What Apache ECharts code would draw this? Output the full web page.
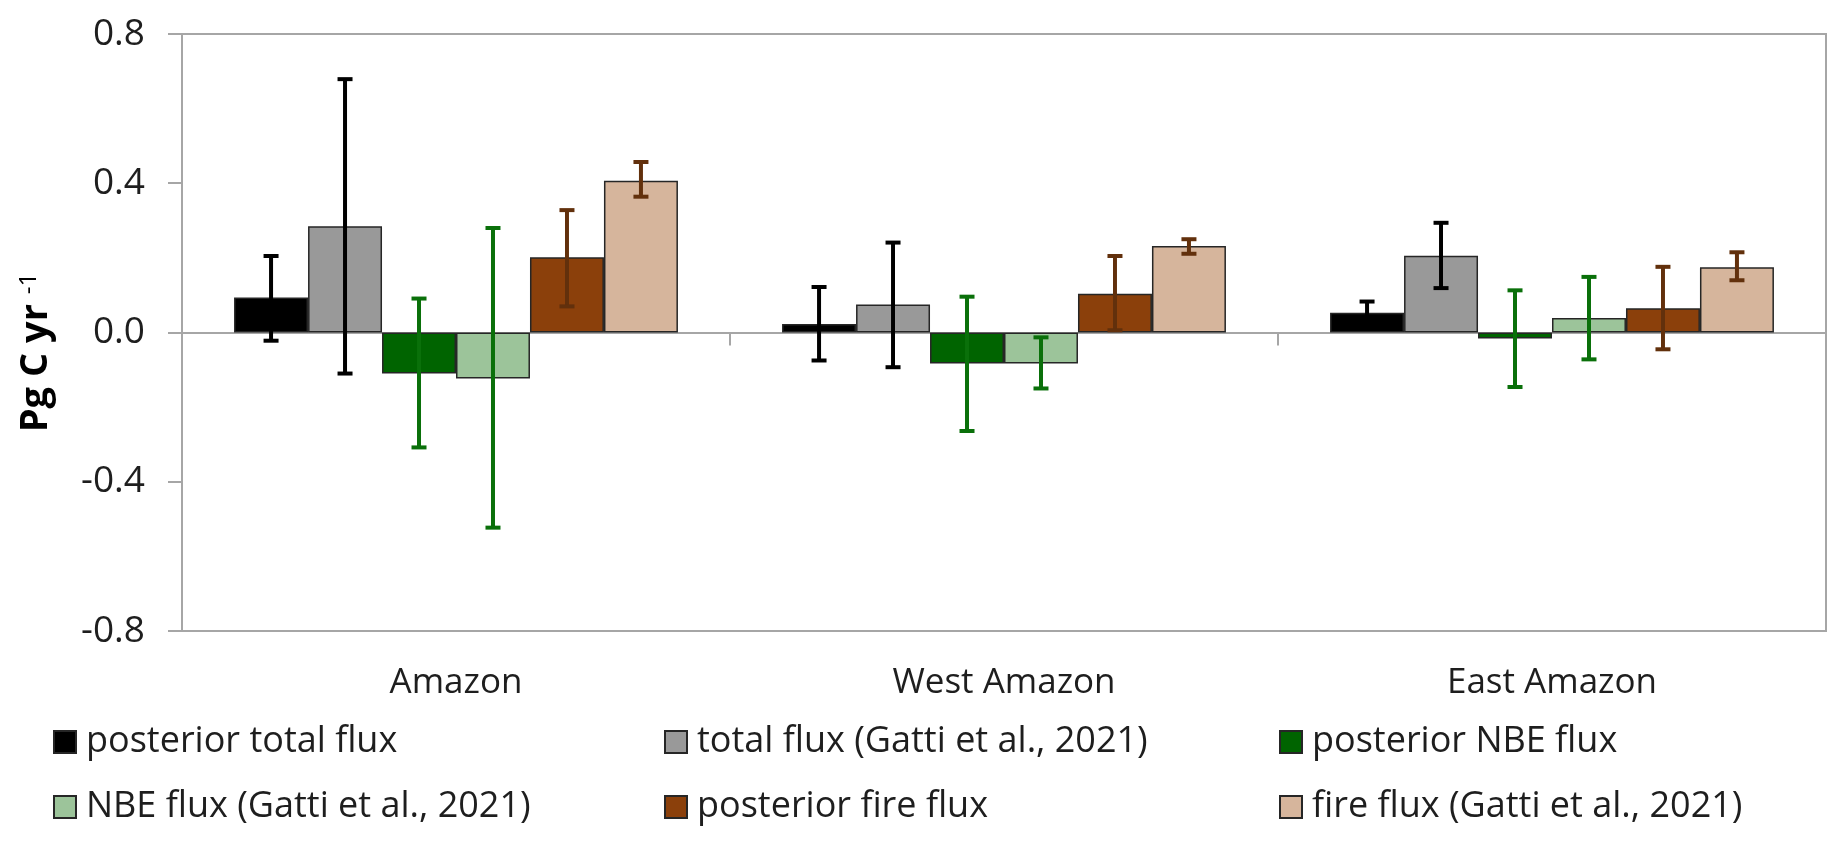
<!DOCTYPE html>
<html>
<head>
<meta charset="utf-8">
<script src="https://cdn.jsdelivr.net/npm/echarts/dist/echarts.min.js"></script>
<style>
html,body{margin:0;padding:0;background:#fff;}
#chart{width:1847px;height:841px;}
</style>
</head>
<body>
<div id="chart"></div>
<script>
// ---- data ----
const categories = ['Amazon', 'West Amazon', 'East Amazon'];
const yTicks = [-0.8, -0.4, 0.0, 0.4, 0.8];

const postTotal      = [0.094, 0.023, 0.053];
const postTotalHi    = [0.205, 0.122, 0.083];
const postTotalLo    = [-0.022, -0.075, 0.023];

const gattiTotal     = [0.285, 0.075, 0.206];
const gattiTotalHi   = [0.679, 0.241, 0.294];
const gattiTotalLo   = [-0.110, -0.093, 0.119];

const postNBE        = [-0.110, -0.083, -0.016];
const postNBEHi      = [0.091, 0.096, 0.113];
const postNBELo      = [-0.308, -0.264, -0.146];

const gattiNBE       = [-0.123, -0.083, 0.039];
const gattiNBEHi     = [0.280, -0.013, 0.149];
const gattiNBELo     = [-0.523, -0.150, -0.072];

const postFire       = [0.202, 0.104, 0.065];
const postFireHi     = [0.328, 0.205, 0.176];
const postFireLo     = [0.070, 0.006, -0.045];

const gattiFire      = [0.407, 0.232, 0.175];
const gattiFireHi    = [0.457, 0.250, 0.215];
const gattiFireLo    = [0.364, 0.211, 0.140];

const seriesNames = [
  'posterior total flux',
  'total flux (Gatti et al., 2021)',
  'posterior NBE flux',
  'NBE flux (Gatti et al., 2021)',
  'posterior fire flux',
  'fire flux (Gatti et al., 2021)'
];
const values = [postTotal, gattiTotal, postNBE, gattiNBE, postFire, gattiFire];
const highs  = [postTotalHi, gattiTotalHi, postNBEHi, gattiNBEHi, postFireHi, gattiFireHi];
const lows   = [postTotalLo, gattiTotalLo, postNBELo, gattiNBELo, postFireLo, gattiFireLo];

// ---- styles ----
const barColors = ['#000000', '#999999', '#006400', '#9cc49a', '#8b400b', '#d6b59c'];
const errColors = ['#000000', '#000000', '#0a700a', '#0a700a', '#62300c', '#62300c'];
const GAP = 0.19;
const N = 6;
const FONT = '"Open Sans", "Noto Sans", sans-serif';
const TXT = '#1e1e1e';
const AXIS_GRAY = '#a6a6a6';

function makeErrRender(i) {
  return function (params, api) {
    const c = api.value(0), hi = api.value(1), lo = api.value(2);
    const band = api.size([1, 0])[0];
    const used = band * (1 - GAP);
    const barW = used / N;
    const center = api.coord([c, 0])[0];
    const x = center - used / 2 + (i + 0.5) * barW;
    const yHi = api.coord([c, hi])[1];
    const yLo = api.coord([c, lo])[1];
    const cap = 7.5;
    const style = { stroke: errColors[i], lineWidth: 4, fill: null };
    return {
      type: 'group',
      children: [
        { type: 'line', shape: { x1: x, y1: yHi, x2: x, y2: yLo }, style: style },
        { type: 'line', shape: { x1: x - cap, y1: yHi, x2: x + cap, y2: yHi }, style: style },
        { type: 'line', shape: { x1: x - cap, y1: yLo, x2: x + cap, y2: yLo }, style: style }
      ]
    };
  };
}

const series = [];
values.forEach(function (v, i) {
  series.push({
    name: seriesNames[i],
    type: 'bar',
    xAxisIndex: 0,
    yAxisIndex: 0,
    data: v,
    barGap: '0%',
    barCategoryGap: (GAP * 100) + '%',
    itemStyle: { color: barColors[i], borderColor: '#262626', borderWidth: 1.5 },
    emphasis: { disabled: true },
    z: 2
  });
});
values.forEach(function (v, i) {
  series.push({
    name: 'err' + i,
    type: 'custom',
    xAxisIndex: 0,
    yAxisIndex: 0,
    renderItem: makeErrRender(i),
    encode: { x: 0, y: [1, 2] },
    data: categories.map(function (c, k) { return [k, highs[i][k], lows[i][k]]; }),
    z: 5,
    silent: true
  });
});

function legendCol(left, names) {
  return {
    orient: 'vertical',
    left: left,
    top: 722,
    padding: 0,
    itemGap: 25,
    itemWidth: 22,
    itemHeight: 22,
    icon: 'rect',
    selectedMode: false,
    data: names,
    textStyle: { fontFamily: FONT, fontSize: 36, color: TXT, lineHeight: 40, padding: [0, 0, 0, 5] }
  };
}

const option = {
  animation: false,
  backgroundColor: '#ffffff',
  grid: {
    left: 182, right: 21, top: 34, bottom: 210,
    show: true, borderColor: AXIS_GRAY, borderWidth: 2, backgroundColor: 'transparent'
  },
  legend: [
    legendCol(53, [seriesNames[0], seriesNames[3]]),
    legendCol(664, [seriesNames[1], seriesNames[4]]),
    legendCol(1279, [seriesNames[2], seriesNames[5]])
  ],
  xAxis: [
    {
      type: 'category',
      data: categories,
      position: 'bottom',
      axisLine: { show: true, onZero: true, lineStyle: { color: AXIS_GRAY, width: 2 } },
      axisTick: { show: true, interval: 0, length: 13, lineStyle: { color: AXIS_GRAY, width: 2 } },
      axisLabel: { show: false },
      splitLine: { show: false }
    },
    {
      type: 'category',
      data: categories,
      position: 'bottom',
      axisLine: { show: false, onZero: false },
      axisTick: { show: false },
      axisLabel: { show: true, margin: 35, fontFamily: FONT, fontSize: 35, color: TXT },
      splitLine: { show: false }
    }
  ],
  yAxis: {
    type: 'value',
    min: yTicks[0],
    max: yTicks[yTicks.length - 1],
    interval: 0.4,
    axisLine: { show: true, onZero: false, lineStyle: { color: AXIS_GRAY, width: 2 } },
    axisTick: { show: true, length: 14, lineStyle: { color: AXIS_GRAY, width: 2 } },
    splitLine: { show: false },
    axisLabel: {
      margin: 37,
      fontFamily: FONT, fontSize: 37, color: TXT,
      formatter: function (v) { return (Math.abs(v) < 1e-9 ? 0 : v).toFixed(1); }
    },
    name: '{a|Pg C yr }{b|-1}',
    nameLocation: 'middle',
    nameGap: 127,
    nameTextStyle: {
      padding: [0, 40, 0, 0],
      rich: {
        a: { fontFamily: FONT, fontSize: 38, fontWeight: 'bold', color: '#000' },
        b: { fontFamily: FONT, fontSize: 24, fontWeight: 'normal', color: '#000', verticalAlign: 'top' }
      }
    }
  },
  series: series
};

const chart = echarts.init(document.getElementById('chart'), null, { renderer: 'canvas' });
chart.setOption(option);
</script>
</body>
</html>
